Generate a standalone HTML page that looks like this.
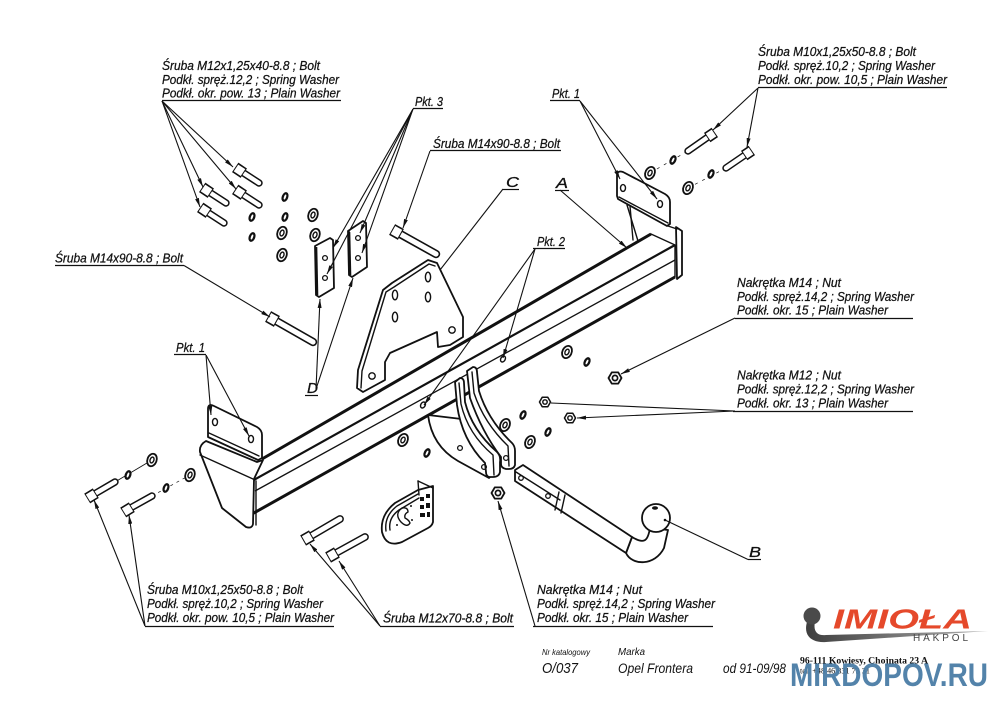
<!DOCTYPE html>
<html><head><meta charset="utf-8"><style>
html,body{margin:0;padding:0;background:#fff}
svg{display:block}
.t{font-family:"Liberation Sans",sans-serif;font-style:italic;font-size:12.7px;fill:#111;stroke:#111;stroke-width:0.25}
.big{font-family:"Liberation Sans",sans-serif;font-style:italic;font-size:15px;fill:#111;stroke:#111;stroke-width:0.3}
.l{stroke:#111;stroke-width:1.1;fill:none}
.k{stroke:#111;fill:#fff;stroke-linejoin:round;stroke-linecap:round;stroke-width:1.8}
.n{stroke:#111;fill:none;stroke-linejoin:round;stroke-linecap:round;stroke-width:1.4}
</style></head><body>
<svg width="1000" height="707" viewBox="0 0 1000 707" xmlns="http://www.w3.org/2000/svg">
<defs>
<marker id="ar" markerWidth="9" markerHeight="4" refX="9" refY="2" orient="auto" markerUnits="userSpaceOnUse"><path d="M0,0 L9,2 L0,4 Z" fill="#111"/></marker>
<g id="ring"><ellipse rx="4.6" ry="6.4" fill="#fff" stroke="#111" stroke-width="1.8"/><ellipse rx="1.9" ry="3" fill="none" stroke="#111" stroke-width="1.4"/></g>
<g id="spr"><ellipse rx="3.3" ry="5.1" fill="#111"/><ellipse rx="1" ry="2.6" fill="#fff"/></g>
<g id="nut"><polygon points="6.5,0 3.25,5.6 -3.25,5.6 -6.5,0 -3.25,-5.6 3.25,-5.6" fill="#fff" stroke="#111" stroke-width="1.8" stroke-linejoin="round"/><circle r="2.6" fill="none" stroke="#111" stroke-width="1.7"/></g>
</defs>

<!-- ===== BEAM ===== -->
<g>
<line x1="262" y1="459" x2="651" y2="234" stroke="#111" stroke-width="3"/>
<line x1="252" y1="481" x2="675" y2="245" stroke="#111" stroke-width="2.2"/>
<line x1="255" y1="491" x2="675" y2="260" stroke="#111" stroke-width="1.3"/>
<line x1="252" y1="514" x2="675" y2="277" stroke="#111" stroke-width="3"/>
<polyline class="n" points="651,234 675,245 675,277"/>
<polygon class="k" points="676,227 682,231 682,275 677,279"/>
<ellipse cx="423" cy="405" rx="2.2" ry="3.2" transform="rotate(30 423 405)" fill="none" stroke="#111" stroke-width="1.4"/>
<ellipse cx="503" cy="359" rx="2.2" ry="3.2" transform="rotate(30 503 359)" fill="none" stroke="#111" stroke-width="1.4"/>
</g>

<!-- left end bracket -->
<path class="k" d="M200,452 Q199,445 206,441 L257,462 L263,460 L254,479 L253,524 Q252,529 246,527 L222,508 Z"/>
<line class="n" x1="200" y1="455" x2="253" y2="479"/>
<line class="n" x1="256" y1="481" x2="256" y2="525"/>
<path class="k" d="M208,433 L208,409 Q208,403 214,406 L257,427 Q262,430 262,435 L262,458 L258,460 L208,437 Z"/>
<line class="n" x1="209" y1="433" x2="259" y2="456"/>
<ellipse cx="215" cy="422" rx="2.5" ry="3.6" fill="none" stroke="#111" stroke-width="1.4"/>
<ellipse cx="251" cy="439" rx="2.5" ry="3.6" fill="none" stroke="#111" stroke-width="1.4"/>

<!-- right Pkt1 bracket -->
<line class="n" x1="627" y1="205" x2="638" y2="241"/>
<line class="n" x1="630" y1="206" x2="633" y2="240"/>
<path class="k" d="M617,196 L617,176 Q617,170 623,172 L665,194 Q670,197 670,202 L670,224 L667,226 L618,199 Z"/>
<line class="n" x1="619" y1="197" x2="668" y2="223"/>
<line class="n" x1="668" y1="226" x2="677" y2="229"/>
<ellipse cx="623" cy="188" rx="2.5" ry="3.4" fill="none" stroke="#111" stroke-width="1.4"/>
<ellipse cx="660" cy="204" rx="2.5" ry="3.4" fill="none" stroke="#111" stroke-width="1.4"/>

<!-- ===== PLATE C ===== -->
<polygon class="k" points="357,388 358,370 383,290 392,283 428,260 437,263 463,317 463,337 450,345 438,347 437,332 390,353 385,362 385,380 363,392"/>
<polyline class="n" points="361,388 362,371 386,292 394,287 429,264 435,266"/>
<ellipse cx="395" cy="295" rx="2.6" ry="4.8" fill="none" stroke="#111" stroke-width="1.4"/>
<ellipse cx="395" cy="317" rx="2.6" ry="4.8" fill="none" stroke="#111" stroke-width="1.4"/>
<ellipse cx="428" cy="277" rx="2.6" ry="4.8" fill="none" stroke="#111" stroke-width="1.4"/>
<ellipse cx="428" cy="297" rx="2.6" ry="4.8" fill="none" stroke="#111" stroke-width="1.4"/>
<circle cx="452" cy="330" r="3.2" fill="none" stroke="#111" stroke-width="1.4"/>
<circle cx="372" cy="376" r="3.2" fill="none" stroke="#111" stroke-width="1.4"/>

<!-- ===== D plates ===== -->
<polygon class="k" points="315,246 330,238 333,240 334,288 319,297 316,295"/>
<line x1="316" y1="247" x2="317" y2="295" stroke="#111" stroke-width="2.6"/>
<circle cx="325" cy="258" r="2.4" fill="none" stroke="#111" stroke-width="1.3"/>
<circle cx="325" cy="278" r="2.4" fill="none" stroke="#111" stroke-width="1.3"/>
<polygon class="k" points="348,231 363,221 366,223 367,267 352,277 349,275"/>
<line x1="349" y1="232" x2="350" y2="275" stroke="#111" stroke-width="2.6"/>
<circle cx="358" cy="238" r="2.4" fill="none" stroke="#111" stroke-width="1.3"/>
<circle cx="358" cy="258" r="2.4" fill="none" stroke="#111" stroke-width="1.3"/>

<!-- ===== hitch bracket ===== -->
<path class="k" d="M428,415 Q432,446 458,461 L489,478 L497,470 L470,420 Z" />
<path class="k" d="M467,371 L473,367 Q477,367 477,372 L479,391 Q488,420 512,443 Q515,446 515,451 L515,465 Q514,469 509,469 L506,469 Q501,468 501,464 L501,457 Q482,432 470,398 Z"/>
<path class="n" d="M472,372 L474,393 Q484,423 508,446 L509,466"/>
<path class="k" d="M455,382 L460,378 Q464,378 464,383 L465,402 Q472,430 497,452 Q501,456 500,462 L500,472 Q499,477 493,477 L489,477 Q486,476 486,472 L485,463 Q462,440 457,405 Z"/>
<path class="n" d="M459,383 L461,404 Q468,434 493,455 L494,475"/>
<circle cx="460" cy="448" r="2.4" fill="none" stroke="#111" stroke-width="1.3"/>
<circle cx="484" cy="467" r="2.4" fill="none" stroke="#111" stroke-width="1.3"/>
<circle cx="506" cy="458" r="2.4" fill="none" stroke="#111" stroke-width="1.3"/>

<!-- ===== ball bar ===== -->
<path class="k" d="M626,553 C632,566 655,566 664,548 L668,530 L650,528 C648,540 645,545 632,537 Z"/>
<polygon class="k" points="515,470 523,465 632,537 626,553 515,481"/>
<line class="n" x1="516" y1="472" x2="560" y2="500"/>
<line class="n" x1="559" y1="492" x2="555" y2="510"/>
<line class="n" x1="565" y1="495" x2="561" y2="513"/>
<circle cx="521" cy="478" r="2.3" fill="none" stroke="#111" stroke-width="1.3"/>
<circle cx="548" cy="496" r="2.3" fill="none" stroke="#111" stroke-width="1.3"/>
<circle cx="656" cy="518" r="14" fill="#fff" stroke="#111" stroke-width="1.8"/>
<ellipse cx="655" cy="508" rx="3" ry="1.8" fill="#111"/>
<circle cx="665" cy="520" r="1.3" fill="#111"/>

<!-- ===== electrical socket ===== -->
<path class="k" d="M433,486 L433,522 Q432,526 428,528 L402,542 Q386,548 382,532 Q380,515 395,503 L418,490 Z"/>
<path class="n" d="M386,531 Q384,516 397,506 L418,494"/>
<path class="n" d="M390,530 Q388,518 399,510 L419,498"/>
<path class="n" d="M401,522 Q394,514 402,508 Q408,507 408,512 Q404,514 405,518 Q409,520 410,523 Q407,528 401,522 Z"/>
<line class="n" x1="418" y1="481" x2="433" y2="488"/>
<line class="n" x1="418" y1="481" x2="419" y2="495"/>
<rect x="420" y="497" width="4" height="4" fill="#111"/>
<rect x="426" y="494" width="4" height="4" fill="#111"/>
<rect x="420" y="505" width="4" height="4" fill="#111"/>
<rect x="426" y="503" width="4" height="5" fill="#111"/>
<rect x="420" y="513" width="5" height="4" fill="#111"/>
<rect x="427" y="512" width="3" height="5" fill="#111"/>
<circle cx="397" cy="525" r="1" fill="#111"/><circle cx="411" cy="506" r="1" fill="#111"/><circle cx="412" cy="520" r="1" fill="#111"/>

<!-- ===== washers / nuts ===== -->
<g>
<use href="#spr" transform="translate(285,197) rotate(20)"/>
<use href="#spr" transform="translate(252,217) rotate(20)"/>
<use href="#spr" transform="translate(285,217) rotate(20)"/>
<use href="#spr" transform="translate(252,237) rotate(20)"/>
<use href="#ring" transform="translate(313,215) rotate(20)"/>
<use href="#ring" transform="translate(282,233) rotate(20)"/>
<use href="#ring" transform="translate(315,235) rotate(20)"/>
<use href="#ring" transform="translate(282,255) rotate(20)"/>

<line x1="650" y1="173" x2="688" y2="151" stroke="#111" stroke-width="0.7" stroke-dasharray="3,5"/>
<line x1="688" y1="188" x2="726" y2="168" stroke="#111" stroke-width="0.7" stroke-dasharray="3,5"/>
<use href="#ring" transform="translate(650,173) rotate(25)"/>
<use href="#ring" transform="translate(688,188) rotate(25)"/>
<use href="#spr" transform="translate(673,160) rotate(25)"/>
<use href="#spr" transform="translate(711,174) rotate(25)"/>

<use href="#ring" transform="translate(567,352) rotate(25)"/>
<use href="#spr" transform="translate(587,362) rotate(25)"/>
<use href="#nut" transform="translate(615,378)"/>
<use href="#nut" transform="translate(545,402) scale(0.85)"/>
<use href="#nut" transform="translate(570,418) scale(0.85)"/>
<use href="#spr" transform="translate(523,415) rotate(25)"/>
<use href="#spr" transform="translate(548,432) rotate(25)"/>
<use href="#ring" transform="translate(505,425) rotate(25)"/>
<use href="#ring" transform="translate(530,442) rotate(25)"/>
<use href="#ring" transform="translate(403,440) rotate(25)"/>
<use href="#spr" transform="translate(427,453) rotate(25)"/>
<use href="#nut" transform="translate(498,493)"/>

<line x1="115" y1="482" x2="152" y2="460" stroke="#111" stroke-width="0.9"/>
<line x1="152" y1="496" x2="190" y2="475" stroke="#111" stroke-width="0.7" stroke-dasharray="3,4"/>
<use href="#ring" transform="translate(152,460) rotate(20)"/>
<use href="#spr" transform="translate(128,475) rotate(20)"/>
<use href="#ring" transform="translate(190,475) rotate(20)"/>
<use href="#spr" transform="translate(166,488) rotate(20)"/>
</g>

<!-- ===== bolts ===== -->
<g stroke-linecap="round">
<g><line x1="243" y1="172.6" x2="259" y2="183" stroke="#111" stroke-width="7.4"/><line x1="243" y1="172.6" x2="259" y2="183" stroke="#fff" stroke-width="4.4"/><line x1="235.2" y1="167.4" x2="243.8" y2="173.2" stroke="#111" stroke-width="11.4" stroke-linecap="butt"/><line x1="236" y1="168" x2="243" y2="172.6" stroke="#fff" stroke-width="8.2" stroke-linecap="butt"/></g>
<g><line x1="210" y1="192.6" x2="226" y2="203" stroke="#111" stroke-width="7.4"/><line x1="210" y1="192.6" x2="226" y2="203" stroke="#fff" stroke-width="4.4"/><line x1="202.2" y1="187.4" x2="210.8" y2="193.2" stroke="#111" stroke-width="11.4" stroke-linecap="butt"/><line x1="203" y1="188" x2="210" y2="192.6" stroke="#fff" stroke-width="8.2" stroke-linecap="butt"/></g>
<g><line x1="243" y1="194.6" x2="259" y2="205" stroke="#111" stroke-width="7.4"/><line x1="243" y1="194.6" x2="259" y2="205" stroke="#fff" stroke-width="4.4"/><line x1="235.2" y1="189.4" x2="243.8" y2="195.2" stroke="#111" stroke-width="11.4" stroke-linecap="butt"/><line x1="236" y1="190" x2="243" y2="194.6" stroke="#fff" stroke-width="8.2" stroke-linecap="butt"/></g>
<g><line x1="208" y1="212.6" x2="224" y2="223" stroke="#111" stroke-width="7.4"/><line x1="208" y1="212.6" x2="224" y2="223" stroke="#fff" stroke-width="4.4"/><line x1="200.2" y1="207.4" x2="208.8" y2="213.2" stroke="#111" stroke-width="11.4" stroke-linecap="butt"/><line x1="201" y1="208" x2="208" y2="212.6" stroke="#fff" stroke-width="8.2" stroke-linecap="butt"/></g>
<g><line x1="400" y1="233.9" x2="436" y2="254" stroke="#111" stroke-width="8.4"/><line x1="400" y1="233.9" x2="436" y2="254" stroke="#fff" stroke-width="5.2"/><line x1="392.1" y1="229.5" x2="400.9" y2="234.4" stroke="#111" stroke-width="12.4" stroke-linecap="butt"/><line x1="393" y1="230" x2="400" y2="233.9" stroke="#fff" stroke-width="9.2" stroke-linecap="butt"/></g>
<g><line x1="276" y1="320.9" x2="313" y2="342" stroke="#111" stroke-width="8.4"/><line x1="276" y1="320.9" x2="313" y2="342" stroke="#fff" stroke-width="5.2"/><line x1="268.1" y1="316.5" x2="276.9" y2="321.4" stroke="#111" stroke-width="12.4" stroke-linecap="butt"/><line x1="269" y1="317" x2="276" y2="320.9" stroke="#fff" stroke-width="9.2" stroke-linecap="butt"/></g>
<g><line x1="708" y1="137" x2="688" y2="151" stroke="#111" stroke-width="7.4"/><line x1="708" y1="137" x2="688" y2="151" stroke="#fff" stroke-width="4.4"/><line x1="714.8" y1="132.4" x2="707.2" y2="137.6" stroke="#111" stroke-width="11.4" stroke-linecap="butt"/><line x1="714" y1="133" x2="708" y2="137" stroke="#fff" stroke-width="8.2" stroke-linecap="butt"/></g>
<g><line x1="745" y1="155" x2="726" y2="168" stroke="#111" stroke-width="7.4"/><line x1="745" y1="155" x2="726" y2="168" stroke="#fff" stroke-width="4.4"/><line x1="751.8" y1="150.4" x2="744.2" y2="155.6" stroke="#111" stroke-width="11.4" stroke-linecap="butt"/><line x1="751" y1="151" x2="745" y2="155" stroke="#fff" stroke-width="8.2" stroke-linecap="butt"/></g>
<g><line x1="95" y1="493.7" x2="115" y2="482" stroke="#111" stroke-width="7.4"/><line x1="95" y1="493.7" x2="115" y2="482" stroke="#fff" stroke-width="4.4"/><line x1="87.2" y1="498.5" x2="95.8" y2="493.2" stroke="#111" stroke-width="11.4" stroke-linecap="butt"/><line x1="88" y1="498" x2="95" y2="493.7" stroke="#fff" stroke-width="8.2" stroke-linecap="butt"/></g>
<g><line x1="131" y1="507.7" x2="152" y2="496" stroke="#111" stroke-width="7.4"/><line x1="131" y1="507.7" x2="152" y2="496" stroke="#fff" stroke-width="4.4"/><line x1="123.2" y1="512.5" x2="131.8" y2="507.2" stroke="#111" stroke-width="11.4" stroke-linecap="butt"/><line x1="124" y1="512" x2="131" y2="507.7" stroke="#fff" stroke-width="8.2" stroke-linecap="butt"/></g>
<g><line x1="311" y1="536" x2="340" y2="519" stroke="#111" stroke-width="7.8"/><line x1="311" y1="536" x2="340" y2="519" stroke="#fff" stroke-width="4.8"/><line x1="303.1" y1="540.5" x2="311.9" y2="535.5" stroke="#111" stroke-width="11.8" stroke-linecap="butt"/><line x1="304" y1="540" x2="311" y2="536" stroke="#fff" stroke-width="8.6" stroke-linecap="butt"/></g>
<g><line x1="336" y1="553" x2="365" y2="537" stroke="#111" stroke-width="7.8"/><line x1="336" y1="553" x2="365" y2="537" stroke="#fff" stroke-width="4.8"/><line x1="328.1" y1="557.5" x2="336.9" y2="552.5" stroke="#111" stroke-width="11.8" stroke-linecap="butt"/><line x1="329" y1="557" x2="336" y2="553" stroke="#fff" stroke-width="8.6" stroke-linecap="butt"/></g>
</g>

<!-- ===== leaders ===== -->
<g class="l">
<line x1="162" y1="101" x2="233" y2="167" marker-end="url(#ar)"/>
<line x1="162" y1="101" x2="203" y2="187" marker-end="url(#ar)"/>
<line x1="162" y1="101" x2="236" y2="189" marker-end="url(#ar)"/>
<line x1="162" y1="101" x2="200" y2="207" marker-end="url(#ar)"/>
<line x1="413" y1="109" x2="333" y2="248" marker-end="url(#ar)"/>
<line x1="413" y1="109" x2="327" y2="274" marker-end="url(#ar)"/>
<line x1="413" y1="109" x2="360" y2="233" marker-end="url(#ar)"/>
<line x1="413" y1="109" x2="362" y2="253" marker-end="url(#ar)"/>
<line x1="430" y1="151" x2="403" y2="228" marker-end="url(#ar)"/>
<line x1="184" y1="265.5" x2="270" y2="317" marker-end="url(#ar)"/>
<line x1="503" y1="189" x2="440" y2="270"/>
<line x1="560" y1="190" x2="627" y2="248" marker-end="url(#ar)"/>
<line x1="580" y1="101" x2="620" y2="179" marker-end="url(#ar)"/>
<line x1="580" y1="101" x2="657" y2="199" marker-end="url(#ar)"/>
<line x1="758" y1="88" x2="713" y2="130" marker-end="url(#ar)"/>
<line x1="758" y1="88" x2="747" y2="147" marker-end="url(#ar)"/>
<line x1="535" y1="249" x2="424" y2="405" marker-end="url(#ar)"/>
<line x1="535" y1="249" x2="503" y2="358" marker-end="url(#ar)"/>
<line x1="735" y1="318" x2="621" y2="374" marker-end="url(#ar)"/>
<line x1="735" y1="411" x2="551" y2="403"/>
<line x1="735" y1="411" x2="577" y2="418" marker-end="url(#ar)"/>
<line x1="748" y1="559.5" x2="665" y2="520"/>
<line x1="145" y1="626" x2="94" y2="500" marker-end="url(#ar)"/>
<line x1="145" y1="626" x2="129" y2="515" marker-end="url(#ar)"/>
<line x1="380" y1="626" x2="310" y2="544" marker-end="url(#ar)"/>
<line x1="380" y1="626" x2="339" y2="561" marker-end="url(#ar)"/>
<line x1="535" y1="626" x2="498" y2="501" marker-end="url(#ar)"/>
<line x1="206" y1="355" x2="211" y2="415" marker-end="url(#ar)"/>
<line x1="206" y1="355" x2="249" y2="436" marker-end="url(#ar)"/>
<line x1="316" y1="389" x2="320" y2="299" marker-end="url(#ar)"/>
<line x1="316" y1="389" x2="353" y2="278" marker-end="url(#ar)"/>
</g>
<g stroke="#111" stroke-width="1.2">
<line x1="162" y1="100.5" x2="341" y2="100.5"/>
<line x1="413" y1="108.5" x2="443" y2="108.5"/>
<line x1="430" y1="150.5" x2="561" y2="150.5"/>
<line x1="55" y1="265.5" x2="184" y2="265.5"/>
<line x1="503" y1="189.5" x2="519" y2="189.5"/>
<line x1="555" y1="190.5" x2="569" y2="190.5"/>
<line x1="550" y1="100.5" x2="580" y2="100.5"/>
<line x1="758" y1="87.5" x2="947" y2="87.5"/>
<line x1="533" y1="248.5" x2="565" y2="248.5"/>
<line x1="735" y1="318.5" x2="913" y2="318.5"/>
<line x1="733" y1="411.5" x2="913" y2="411.5"/>
<line x1="305" y1="395.5" x2="318" y2="395.5"/>
<line x1="748" y1="559.5" x2="761" y2="559.5"/>
<line x1="174" y1="354.5" x2="206" y2="354.5"/>
<line x1="145" y1="626.5" x2="334" y2="626.5"/>
<line x1="380" y1="626.5" x2="514" y2="626.5"/>
<line x1="533" y1="626.5" x2="713" y2="626.5"/>
</g>

<!-- ===== texts ===== -->
<g class="t">
<text x="162" y="70" textLength="158" lengthAdjust="spacingAndGlyphs">Śruba M12x1,25x40-8.8 ;  Bolt</text>
<text x="162" y="84" textLength="177" lengthAdjust="spacingAndGlyphs">Podkł. spręż.12,2 ; Spring Washer</text>
<text x="162" y="97.5" textLength="178" lengthAdjust="spacingAndGlyphs">Podkł. okr. pow. 13 ; Plain Washer</text>

<text x="415" y="106" textLength="28" lengthAdjust="spacingAndGlyphs">Pkt. 3</text>
<text x="433" y="148" textLength="127" lengthAdjust="spacingAndGlyphs">Śruba M14x90-8.8 ;  Bolt</text>
<text x="55" y="262.5" textLength="128" lengthAdjust="spacingAndGlyphs">Śruba M14x90-8.8 ;  Bolt</text>
<text x="552" y="98" textLength="28" lengthAdjust="spacingAndGlyphs">Pkt. 1</text>
<text x="537" y="246" textLength="28" lengthAdjust="spacingAndGlyphs">Pkt. 2</text>
<text x="176" y="352" textLength="29" lengthAdjust="spacingAndGlyphs">Pkt. 1</text>

<text x="758" y="56" textLength="158" lengthAdjust="spacingAndGlyphs">Śruba M10x1,25x50-8.8 ;  Bolt</text>
<text x="758" y="70" textLength="177" lengthAdjust="spacingAndGlyphs">Podkł. spręż.10,2 ; Spring Washer</text>
<text x="758" y="84" textLength="189" lengthAdjust="spacingAndGlyphs">Podkł. okr. pow. 10,5 ; Plain Washer</text>

<text x="737" y="287" textLength="104" lengthAdjust="spacingAndGlyphs">Nakrętka  M14 ; Nut</text>
<text x="737" y="301" textLength="177" lengthAdjust="spacingAndGlyphs">Podkł. spręż.14,2 ; Spring Washer</text>
<text x="737" y="314.5" textLength="151" lengthAdjust="spacingAndGlyphs">Podkł. okr. 15 ; Plain Washer</text>

<text x="737" y="379.5" textLength="104" lengthAdjust="spacingAndGlyphs">Nakrętka  M12 ; Nut</text>
<text x="737" y="393.5" textLength="177" lengthAdjust="spacingAndGlyphs">Podkł. spręż.12,2 ; Spring Washer</text>
<text x="737" y="407.5" textLength="151" lengthAdjust="spacingAndGlyphs">Podkł. okr. 13 ; Plain Washer</text>

<text x="147" y="594" textLength="156" lengthAdjust="spacingAndGlyphs">Śruba M10x1,25x50-8.8 ;  Bolt</text>
<text x="147" y="608" textLength="176" lengthAdjust="spacingAndGlyphs">Podkł. spręż.10,2 ; Spring Washer</text>
<text x="147" y="622" textLength="187" lengthAdjust="spacingAndGlyphs">Podkł. okr. pow. 10,5 ; Plain Washer</text>

<text x="383" y="622.5" textLength="130" lengthAdjust="spacingAndGlyphs">Śruba M12x70-8.8 ;  Bolt</text>

<text x="537" y="594" textLength="105" lengthAdjust="spacingAndGlyphs">Nakrętka  M14 ; Nut</text>
<text x="537" y="608" textLength="178" lengthAdjust="spacingAndGlyphs">Podkł. spręż.14,2 ; Spring Washer</text>
<text x="537" y="622" textLength="151" lengthAdjust="spacingAndGlyphs">Podkł. okr. 15 ; Plain Washer</text>
</g>
<g class="big">
<text x="506" y="187" textLength="13" lengthAdjust="spacingAndGlyphs">C</text>
<text x="556" y="188" textLength="12" lengthAdjust="spacingAndGlyphs">A</text>
<text x="307" y="393" textLength="11" lengthAdjust="spacingAndGlyphs">D</text>
<text x="749" y="557" textLength="12" lengthAdjust="spacingAndGlyphs">B</text>
</g>

<!-- catalog -->
<g font-family="'Liberation Sans',sans-serif" font-style="italic" fill="#111">
<text x="542" y="655" font-size="8.5" textLength="48" lengthAdjust="spacingAndGlyphs">Nr katalogowy</text>
<text x="618" y="655" font-size="10.5" textLength="27" lengthAdjust="spacingAndGlyphs">Marka</text>
<text x="542" y="673" font-size="15" textLength="36" lengthAdjust="spacingAndGlyphs">O/037</text>
<text x="618" y="673" font-size="14" textLength="75" lengthAdjust="spacingAndGlyphs">Opel Frontera</text>
<text x="723" y="673" font-size="14" textLength="63" lengthAdjust="spacingAndGlyphs">od 91-09/98</text>
</g>

<!-- logo -->
<defs><linearGradient id="hg" x1="0" x2="1" y1="0" y2="0"><stop offset="0" stop-color="#3e3e3e"/><stop offset="1" stop-color="#b0b0b0"/></linearGradient></defs>
<path d="M807,622 C803,636 812,643 826,642 L988,631 L826,635 C817,636 813,631 815,622 Z" fill="url(#hg)"/>
<circle cx="812" cy="616" r="8.5" fill="#4a4a4a"/>
<text x="833" y="628.5" font-family="'Liberation Sans',sans-serif" font-weight="bold" font-style="italic" font-size="28" fill="#e5492b" textLength="139" lengthAdjust="spacingAndGlyphs">IMIOŁA</text>
<text x="913" y="641" font-family="'Liberation Sans',sans-serif" font-size="10" fill="#444" textLength="55" lengthAdjust="spacing">HAKPOL</text>
<text x="800" y="663.5" font-family="'Liberation Serif',serif" font-weight="bold" font-size="9.5" fill="#111" textLength="128" lengthAdjust="spacingAndGlyphs">96-111 Kowiesy, Chojnata 23 A</text>
<text x="800" y="673.5" font-family="'Liberation Serif',serif" font-size="8" fill="#111" textLength="70" lengthAdjust="spacingAndGlyphs">tel. +48 46 831 73 31</text>
<text x="790" y="686" font-family="'Liberation Sans',sans-serif" font-weight="bold" font-size="32" fill="#4a7ca5" fill-opacity="0.95" textLength="198" lengthAdjust="spacingAndGlyphs">MIRDOPOV.RU</text>
</svg>
</body></html>
